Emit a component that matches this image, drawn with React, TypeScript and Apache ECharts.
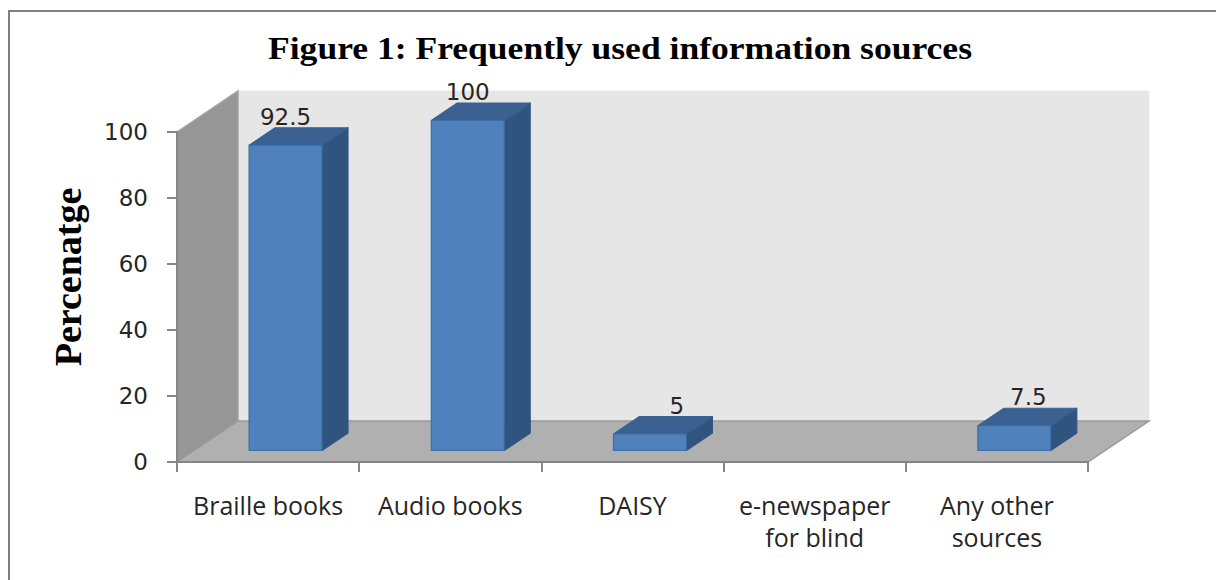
import React, { useEffect, useRef } from "react";
import * as echarts from "echarts";

const titleText = "Figure 1: Frequently used information sources";
const yAxisName = "Percenatge";
const categories = ["Braille books", "Audio books", "DAISY", "e-newspaper\nfor blind", "Any other\nsources"];
const percentages = [92.5, 100, 5, 0, 7.5];
const yTicks = { min: 0, max: 100, interval: 20 };

// Projection of the 3D look, in pixels
const WALL_DX = 61;
const WALL_DY = 41;
const BAR_DX = 26;
const BAR_DY = 17.5;
const BAR_LIFT = 11.5;
const BAR_SHIFT = -19;
const BAR_RATIO = 0.4;
const LABEL_SHIFT = [0, 0, 27, 0, 14];

const AXIS_GREY = "#868686";
const TEXT_COLOR = "#262626";
const NUMBER_FONT = "DejaVu Sans";
const CATEGORY_FONT = "Open Sans";

function renderWalls(params: any) {
  const { x, y, width, height } = params.coordSys;
  const bottom = y + height;
  const pts = {
    back: [[x + WALL_DX, y - WALL_DY], [x + width + WALL_DX, y - WALL_DY], [x + width + WALL_DX, bottom - WALL_DY], [x + WALL_DX, bottom - WALL_DY]],
    left: [[x, y], [x + WALL_DX, y - WALL_DY], [x + WALL_DX, bottom - WALL_DY], [x, bottom]],
    floor: [[x, bottom], [x + WALL_DX, bottom - WALL_DY], [x + width + WALL_DX, bottom - WALL_DY], [x + width, bottom]],
  };
  return {
    type: "group",
    children: [
      { type: "polygon", shape: { points: pts.back }, style: { fill: "#e6e6e6", stroke: "#e9e9e9", lineWidth: 1 } },
      { type: "polygon", shape: { points: pts.left }, style: { fill: "#969696", stroke: "#a2a2a2", lineWidth: 1.5 } },
      { type: "polygon", shape: { points: pts.floor }, style: { fill: "#b0b0b0", stroke: "#999999", lineWidth: 1.5 } },
    ],
  };
}

function renderBar(params: any, api: any) {
  const cat = api.value(0);
  const v = api.value(1);
  if (!v) return null;
  const base = api.coord([cat, 0]);
  const top = api.coord([cat, v]);
  const w = api.size([1, 0])[0] * BAR_RATIO;
  const x0 = base[0] + BAR_SHIFT;
  const x1 = x0 + w;
  const yb = base[1] - BAR_LIFT;
  const yt = top[1] - BAR_LIFT;
  const edge = { lineWidth: 1.2, lineJoin: "round" };
  return {
    type: "group",
    children: [
      {
        type: "text",
        style: {
          text: String(v),
          x: x0 + w / 2 + LABEL_SHIFT[params.dataIndex],
          y: yt - BAR_DY - 11,
          align: "center",
          verticalAlign: "middle",
          font: `23px "${NUMBER_FONT}"`,
          fill: TEXT_COLOR,
        },
      },
      {
        type: "polygon",
        shape: { points: [[x1, yt], [x1 + BAR_DX, yt - BAR_DY], [x1 + BAR_DX, yb - BAR_DY], [x1, yb]] },
        style: { fill: "#2f5480", stroke: "#2f5480", ...edge },
      },
      {
        type: "polygon",
        shape: { points: [[x0, yt], [x0 + BAR_DX, yt - BAR_DY], [x1 + BAR_DX, yt - BAR_DY], [x1, yt]] },
        style: { fill: "#3a6192", stroke: "#3a6192", ...edge },
      },
      {
        type: "rect",
        shape: { x: x0, y: yt, width: w, height: yb - yt },
        style: { fill: "#4f81bd", stroke: "#3c6da6", ...edge },
      },
    ],
  };
}

export default function App() {
  const ref = useRef<HTMLDivElement>(null);
  useEffect(() => {
    const chart = echarts.init(ref.current!, undefined, { renderer: "svg" });
    const axisLine = { show: true, lineStyle: { color: AXIS_GREY, width: 2 } };
    const axisTick = { show: true, length: 10, lineStyle: { color: AXIS_GREY, width: 2 } };
    chart.setOption({
      animation: false,
      backgroundColor: "#ffffff",
      grid: { left: 177, top: 132, width: 911, height: 330 },
      xAxis: {
        type: "category",
        data: categories,
        z: 3,
        axisLine,
        axisTick,
        axisLabel: {
          interval: 0,
          margin: 27,
          fontFamily: CATEGORY_FONT,
          fontSize: 25,
          lineHeight: 32,
          color: TEXT_COLOR,
        },
      },
      yAxis: {
        type: "value",
        ...yTicks,
        z: 3,
        name: yAxisName,
        nameLocation: "middle",
        nameRotate: 90,
        nameGap: 90,
        nameTextStyle: {
          fontFamily: "Liberation Serif",
          fontWeight: "bold",
          fontSize: 38,
          color: "#000000",
          padding: [0, 0, 0, 40],
        },
        axisLine,
        axisTick,
        splitLine: { show: false },
        axisLabel: { margin: 29, padding: [2, 0, 0, 0], fontFamily: NUMBER_FONT, fontSize: 23, color: TEXT_COLOR },
      },
      graphic: [
        {
          type: "polyline",
          shape: { points: [[9, 580], [9, 11], [1216, 11]] },
          style: { fill: "none", stroke: "#808080", lineWidth: 2 },
          z: 10,
        },
        {
          type: "text",
          x: 620,
          y: 48,
          scaleX: 1.147,
          z: 10,
          style: {
            text: titleText,
            align: "center",
            verticalAlign: "middle",
            font: 'bold 31px "Liberation Serif"',
            fill: "#000000",
          },
        },
      ],
      series: [
        {
          type: "custom",
          name: "walls",
          z: 1,
          silent: true,
          clip: false,
          data: [[0, 0]],
          encode: { x: 0, y: 1 },
          renderItem: renderWalls,
        },
        {
          type: "custom",
          name: "Percentage",
          z: 2,
          clip: false,
          data: percentages.map((v, i) => [i, v]),
          encode: { x: 0, y: 1 },
          renderItem: renderBar,
        },
      ],
    });
    return () => chart.dispose();
  }, []);
  return <div ref={ref} style={{ position: "absolute", left: 0, top: 0, width: 1216, height: 580 }} />;
}
